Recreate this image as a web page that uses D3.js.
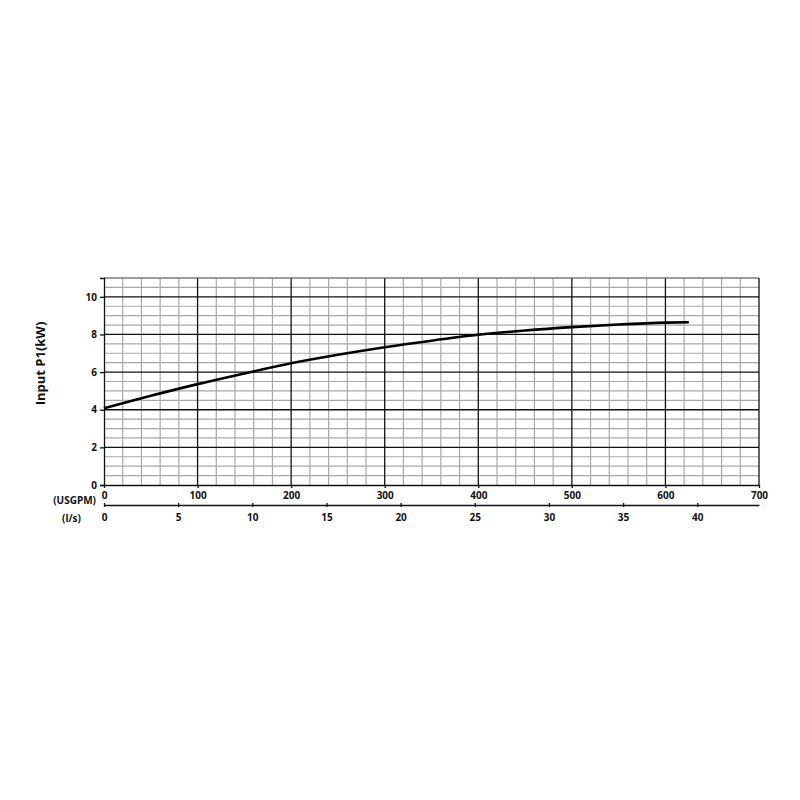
<!DOCTYPE html>
<meta charset="utf-8">
<style>
body { margin: 0; background: #fff; }
text { font-family: "Open Sans", sans-serif; font-weight: bold; fill: #111; }
</style>
<body>
<script src="https://d3js.org/d3.v7.min.js"></script>
<script>

// curve: flow in USGPM, input power P1 in kW
var flowUsgpm = [0, 50, 100, 150, 200, 250, 300, 350, 400, 450, 500, 550, 600, 625];
var powerKw   = [4.08, 4.74, 5.36, 5.93, 6.47, 6.92, 7.32, 7.67, 7.98, 8.21, 8.39, 8.53, 8.63, 8.65];

var usgpmTicks = [0, 100, 200, 300, 400, 500, 600, 700];
var lsTicks = [0, 5, 10, 15, 20, 25, 30, 35, 40];
var yTicks = [0, 2, 4, 6, 8, 10];

var USGPM_PER_LS = 15.850;

var margin = {top: 278, left: 104},
    width = 655,
    height = 207;

var svg = d3.select("body").append("svg")
    .attr("width", 800)
    .attr("height", 800);

var g = svg.append("g")
    .attr("transform", "translate(" + margin.left + "," + margin.top + ")");

var x = d3.scaleLinear().domain([0, 700]).range([0, width]);
var xls = d3.scaleLinear().domain([0, 700 / USGPM_PER_LS]).range([0, width]);
var y = d3.scaleLinear().domain([0, 11]).range([height, 0]);

// minor grid
g.append("g").selectAll("line")
    .data(d3.range(20, 700, 20).filter(function(d) { return d % 100 !== 0; }))
  .enter().append("line")
    .attr("x1", x).attr("x2", x)
    .attr("y1", 0).attr("y2", height)
    .attr("stroke", "#a8a8a8").attr("stroke-width", 1.2);

g.append("g").selectAll("line")
    .data(d3.range(0.5, 11.01, 0.5).filter(function(d) { return d % 2 !== 0; }))
  .enter().append("line")
    .attr("x1", 0).attr("x2", width)
    .attr("y1", y).attr("y2", y)
    .attr("stroke", "#a8a8a8").attr("stroke-width", 1.2);

// major grid
g.append("g").selectAll("line")
    .data(usgpmTicks.slice(1, -1))
  .enter().append("line")
    .attr("x1", x).attr("x2", x)
    .attr("y1", 0).attr("y2", height)
    .attr("stroke", "#111").attr("stroke-width", 1.3);

g.append("g").selectAll("line")
    .data(yTicks.slice(1))
  .enter().append("line")
    .attr("x1", 0).attr("x2", width)
    .attr("y1", y).attr("y2", y)
    .attr("stroke", "#111").attr("stroke-width", 1.3);

// frame
g.append("line").attr("x1", 0).attr("x2", width).attr("y1", 0).attr("y2", 0)
    .attr("stroke", "#666").attr("stroke-width", 1);
g.append("line").attr("x1", width).attr("x2", width).attr("y1", 0).attr("y2", height)
    .attr("stroke", "#111").attr("stroke-width", 1.3);

// y axis
var yAxis = g.append("g")
    .call(d3.axisLeft(y).tickValues(yTicks).tickSize(4).tickPadding(3));
yAxis.select(".domain").attr("stroke", "#111").attr("stroke-width", 1.3);
yAxis.selectAll(".tick line").attr("stroke", "#111").attr("stroke-width", 1.3);
yAxis.selectAll("text").style("font-size", "10px");

// USGPM axis
var xAxis = g.append("g")
    .attr("transform", "translate(0," + height + ")")
    .call(d3.axisBottom(x).tickValues(usgpmTicks).tickSize(3).tickPadding(4).tickSizeOuter(0));
xAxis.select(".domain").attr("stroke", "#111").attr("stroke-width", 1.3);
xAxis.selectAll(".tick line").attr("stroke", "#111").attr("stroke-width", 1.3);
xAxis.selectAll("text").style("font-size", "10px");

// l/s axis
var lsAxis = g.append("g")
    .attr("transform", "translate(0," + (height + 20) + ")")
    .call(d3.axisBottom(xls).tickValues(lsTicks).tickSize(3).tickPadding(6).tickSizeOuter(0));
lsAxis.select(".domain").attr("stroke", "#111").attr("stroke-width", 1.3);
lsAxis.selectAll(".tick line").attr("stroke", "#111").attr("stroke-width", 1.3)
    .attr("y1", -2).attr("y2", 2);
lsAxis.selectAll("text").style("font-size", "10px");

// unit labels
g.append("text")
    .attr("x", -8).attr("y", height + 19)
    .attr("text-anchor", "end")
    .style("font-size", "10px")
    .text("(USGPM)");
g.append("text")
    .attr("x", -42).attr("y", height + 37)
    .attr("text-anchor", "start")
    .style("font-size", "10px")
    .text("(l/s)");

// y title
g.append("text")
    .attr("transform", "translate(-59," + (height / 2 - 18) + ") rotate(-90)")
    .attr("text-anchor", "middle")
    .style("font-size", "13px")
    .text("Input P1(kW)");

// curve
var line = d3.line()
    .x(function(d, i) { return x(flowUsgpm[i]); })
    .y(function(d) { return y(d); })
    .curve(d3.curveMonotoneX);

g.append("path")
    .datum(powerKw)
    .attr("fill", "none")
    .attr("stroke", "#000")
    .attr("stroke-width", 2.6)
    .attr("d", line);

</script>
</body>
